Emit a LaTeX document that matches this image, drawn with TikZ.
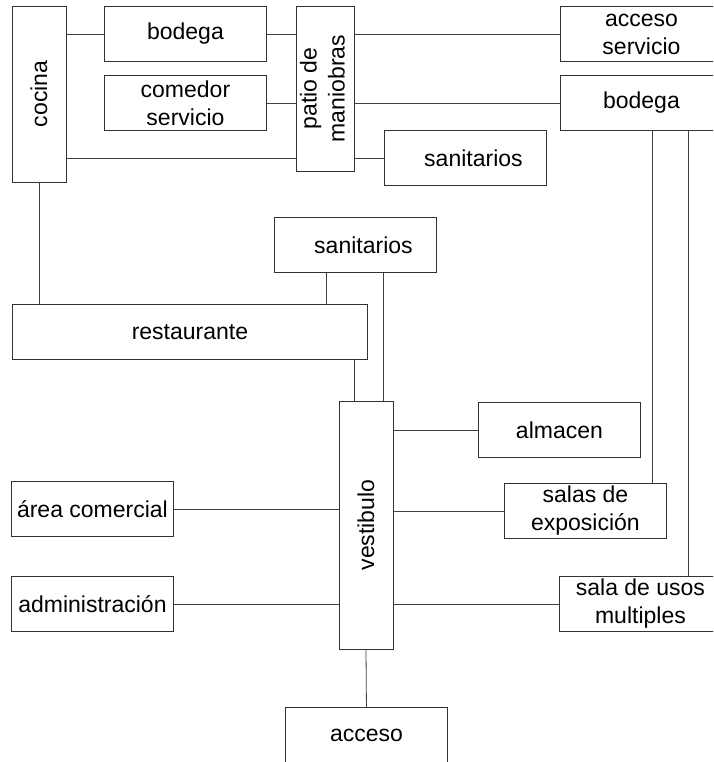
\documentclass[tikz,border=0pt]{standalone}
\usepackage{fontspec}
\usepackage{graphicx}
\setmainfont{Liberation Sans}
\usepackage{tikz}

\begin{document}
\begin{tikzpicture}[x=1pt, y=-1pt,
    room/.style={draw=black!80, line width=0.9pt, minimum width=162, minimum height=55, inner sep=1pt, align=center, anchor=north west},
    tall/.style={draw=black!80, line width=0.9pt, minimum width=54, inner sep=1pt},
    link/.style={draw=black!75, line width=0.8pt},
    font=\fontsize{23}{28}\selectfont]
    \useasboundingbox (0,0) rectangle (713,762);
    \clip (0,0) rectangle (713,762);

    % Service zone
    \node[tall, minimum height=176] (cocina) at (39,94) {\rotatebox{90}{cocina}};
    \node[room] (bodegaA) at (104,6) {bodega};
    \node[room] (comedor) at (104,75) {comedor\\servicio};
    \node[tall, minimum height=165] (patio) at (325,88.5) {\rotatebox{90}{\begin{tabular}{@{}c@{}}patio de\\maniobras\end{tabular}}};
    \node[room] (accesoserv) at (560,6) {acceso\\servicio};
    \node[room] (bodegaB) at (560,75) {bodega};
    \node[room] (sanA) at (384,130) {\hspace*{16pt}sanitarios};

    % Public zone
    \node[room] (sanB) at (274,217) {\hspace*{16pt}sanitarios};
    \node[room, minimum width=355] (restaurante) at (12,304) {restaurante};
    \node[tall, minimum height=248] (vestibulo) at (366,525) {\rotatebox{90}{vestibulo}};
    \node[room] (almacen) at (478,402) {almacen};
    \node[room] (salas) at (504,483) {salas de\\exposición};
    \node[room] (comercial) at (11,481) {área comercial};
    \node[room] (admin) at (11,576) {administración};
    \node[room] (usos) at (559,576) {sala de usos\\multiples};
    \node[room] (acceso) at (285,707) {acceso};

    % Links around the kitchen
    \draw[link] (cocina.east |- bodegaA.west) -- (bodegaA.west);
    \draw[link] (bodegaA.east) -- (patio.west |- bodegaA.east);
    \draw[link] (comedor.east) -- (patio.west |- comedor.east);
    \draw[link] (cocina.east |- sanA.west) -- (patio.west |- sanA.west);
    \draw[link] (patio.east |- sanA.west) -- (sanA.west);
    \draw[link] (patio.east |- accesoserv.west) -- (accesoserv.west);
    \draw[link] (patio.east |- bodegaB.west) -- (bodegaB.west);
    \draw[link] ([xshift=92]bodegaB.south west) -- ([xshift=92]bodegaB.south west |- salas.north);
    \draw[link] ([xshift=128]bodegaB.south west) -- ([xshift=128]bodegaB.south west |- usos.north);
    \draw[link] (cocina.south) -- (cocina.south |- restaurante.north);

    % Links around the lobby
    \draw[link] ([xshift=52]sanB.south west) -- ([xshift=52]sanB.south west |- restaurante.north);
    \draw[link] ([xshift=109]sanB.south west) -- ([xshift=109]sanB.south west |- vestibulo.north);
    \draw[link] ([xshift=-14]restaurante.south east) -- ([xshift=-14]restaurante.south east |- vestibulo.north);
    \draw[link] (vestibulo.east |- almacen.west) -- (almacen.west);
    \draw[link] (vestibulo.east |- salas.west) -- (salas.west);
    \draw[link] (vestibulo.east |- usos.west) -- (usos.west);
    \draw[link] (comercial.east) -- (vestibulo.west |- comercial.east);
    \draw[link] (admin.east) -- (vestibulo.west |- admin.east);
    \draw[link] (vestibulo.south) -- (acceso.north);
\end{tikzpicture}
\end{document}
